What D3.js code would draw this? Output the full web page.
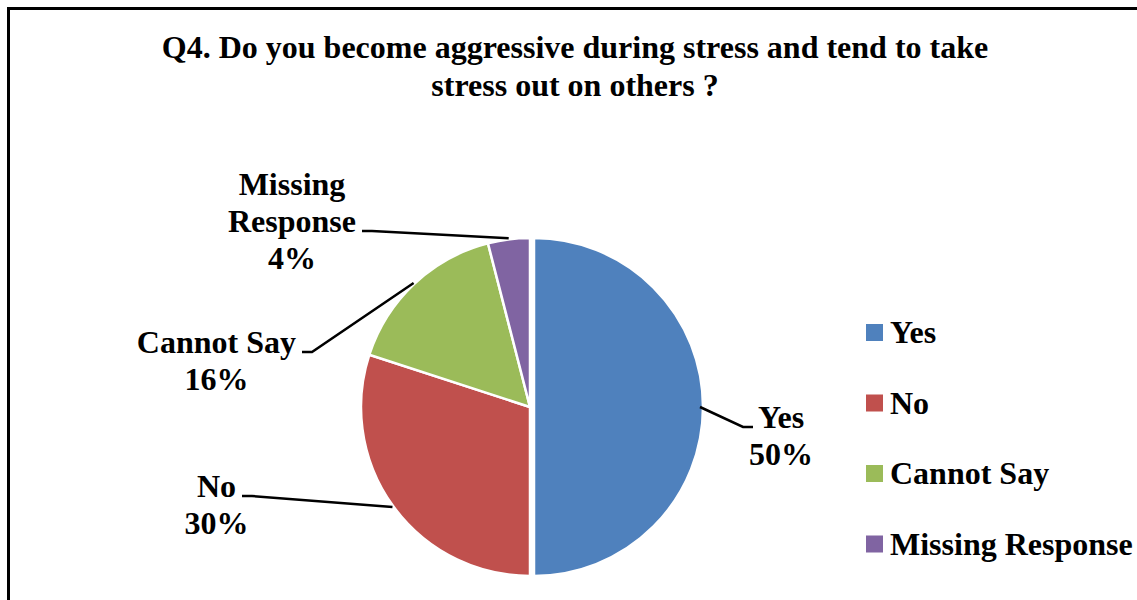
<!DOCTYPE html>
<html>
<head>
<meta charset="utf-8">
<script src="https://cdn.jsdelivr.net/npm/d3@7"></script>
<style>
  body { margin: 0; background: #fff; }
  svg text { font-family: "Liberation Serif", "Times New Roman", serif; font-weight: bold; fill: #000; }
</style>
</head>
<body>
<script>
const width = 1137,
    height = 600;

// data
const categories = ["Yes", "No", "Cannot Say", "Missing Response"];
const percents = [50, 30, 16, 4];
const labelLines = [["Yes"], ["No"], ["Cannot Say"], ["Missing", "Response"]];
const colors = ["#4F81BD", "#C0504D", "#9BBB59", "#8064A2"];
const titleLines = ["Q4. Do you become aggressive during stress and tend to take", "stress out on others ?"];

// manual label placement (end of the leader line, relative to pie centre), like excel best fit
const labelAnchor = [
  { dx: 223, dy: 20, side: "right" },
  { dx: -288, dy: 89, side: "left" },
  { dx: -228, dy: -55, side: "left" },
  { dx: -168, dy: -176, side: "left" }
];

const cx = 530, cy = 407, radius = 169;
const fontSize = 32, lineH = 37;

const svg = d3.select("body").append("svg")
    .attr("width", width)
    .attr("height", height);

// chart border
svg.append("rect")
    .attr("x", 8.5)
    .attr("y", 8.5)
    .attr("width", width + 20)
    .attr("height", height + 20)
    .style("fill", "none")
    .style("stroke", "#000")
    .style("stroke-width", 3);

// title
const title = svg.append("text")
    .attr("text-anchor", "middle")
    .style("font-size", fontSize + "px");
titleLines.forEach((t, i) => {
  title.append("tspan")
      .attr("x", 575)
      .attr("y", 58 + i * 38)
      .text(t);
});

const data = categories.map((c, i) => ({ name: c, value: percents[i], i: i }));

const pie = d3.pie()
    .sort(null)
    .value(d => d.value);

const arc = d3.arc()
    .innerRadius(0)
    .outerRadius(radius);

const arcs = pie(data);

const g = svg.append("g")
    .attr("transform", "translate(" + cx + "," + cy + ")");

g.selectAll("path.slice")
    .data(arcs)
    .enter().append("path")
    .attr("class", "slice")
    .attr("d", arc)
    .attr("transform", d => {
      // first slice pulled out a little
      if (d.index !== 0) return null;
      const mid = (d.startAngle + d.endAngle) / 2;
      return "translate(" + (Math.sin(mid) * 4) + "," + (-Math.cos(mid) * 4) + ")";
    })
    .style("fill", d => colors[d.index])
    .style("stroke", "#fff")
    .style("stroke-width", 2.5);

// leader lines
g.selectAll("polyline.leader")
    .data(arcs)
    .enter().append("polyline")
    .attr("class", "leader")
    .attr("points", d => {
      const mid = (d.startAngle + d.endAngle) / 2;
      const p0 = [Math.sin(mid) * (radius + 1), -Math.cos(mid) * (radius + 1)];
      const a = labelAnchor[d.index];
      const elbow = a.side === "right" ? [a.dx - 10, a.dy] : [a.dx + 10, a.dy];
      return [p0, elbow, [a.dx, a.dy]].map(p => p.join(",")).join(" ");
    })
    .style("fill", "none")
    .style("stroke", "#000")
    .style("stroke-width", 2.5);

// data labels
arcs.forEach(d => {
  const a = labelAnchor[d.index];
  const lines = labelLines[d.index].concat([d.data.value + "%"]);
  const nameLines = labelLines[d.index].length;
  const txt = g.append("text")
      .attr("text-anchor", "middle")
      .style("font-size", fontSize + "px");
  // the leader line ends next to the last name line
  const tmp = txt.append("tspan").text(labelLines[d.index][nameLines - 1]);
  const w = tmp.node().getComputedTextLength();
  tmp.remove();
  const centerX = a.side === "right" ? a.dx + 5 + w / 2 : a.dx - 6 - w / 2;
  lines.forEach((t, k) => {
    txt.append("tspan")
        .attr("x", centerX)
        .attr("y", a.dy + 1 + (k - (nameLines - 1)) * lineH)
        .text(t);
  });
});

// legend
const legend = svg.append("g")
    .attr("transform", "translate(866, 324)");

const item = legend.selectAll("g")
    .data(categories)
    .enter().append("g")
    .attr("transform", (d, i) => "translate(0," + (i * 70.5) + ")");

item.append("rect")
    .attr("width", 17)
    .attr("height", 17)
    .style("fill", (d, i) => colors[i]);

item.append("text")
    .attr("x", 24)
    .attr("y", 19)
    .style("font-size", fontSize + "px")
    .text(d => d);
</script>
</body>
</html>
